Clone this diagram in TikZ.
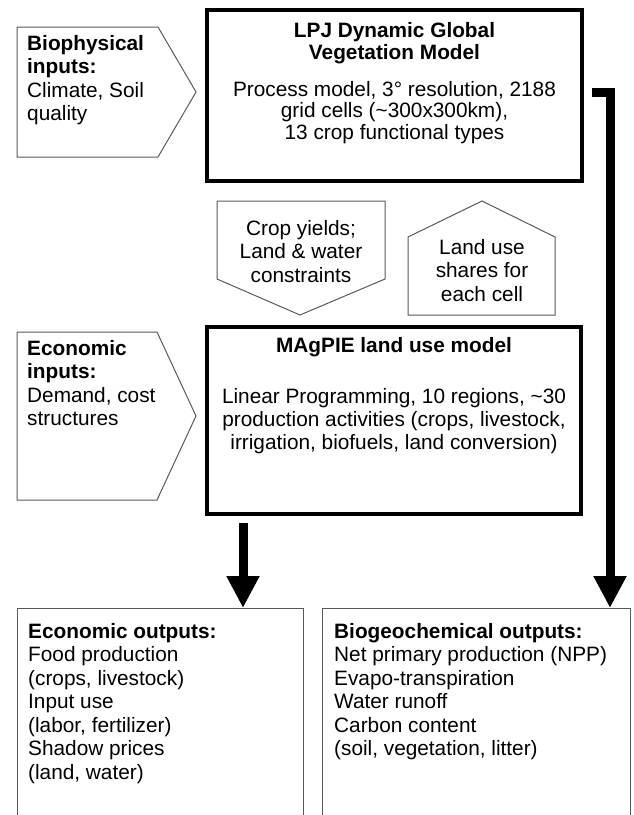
\documentclass[tikz,border=0pt]{standalone}
\usepackage{fontspec}
\setmainfont{Liberation Sans}
\usetikzlibrary{arrows.meta,calc}

\begin{document}
\begin{tikzpicture}[x=1pt,y=-1pt,
  every node/.style={font=\fontsize{20.8}{23.5}\selectfont, inner sep=0pt},
  title/.style={font=\fontsize{20.8}{22}\selectfont\bfseries, align=center, anchor=north},
  body/.style={font=\fontsize{20.8}{21.5}\selectfont, align=center, anchor=north},
  modelbox/.style={draw, line width=4pt, rectangle},
  infobox/.style={draw=black!65, line width=1pt},
  fatarrow/.style={line width=9pt, -{Triangle[width=31pt,length=32pt]}}]

% page
\clip (0,0) rectangle (633,815);

% model boxes
\node[modelbox, minimum width=375pt, minimum height=171pt] (lpj) at (394.5,95.5) {};
\node[modelbox, minimum width=374pt, minimum height=187pt] (magpie) at (394,420.5) {};

% output boxes
\node[infobox, minimum width=286pt, minimum height=240pt, anchor=north west] (ecoout) at (17,608) {};
\node[infobox, minimum width=308pt, minimum height=240pt, anchor=north west] (bioout) at (322,608) {};

% input shapes
\draw[infobox] (17,27) -- (158,27) -- (196,92) -- (158,157) -- (17,157) -- cycle;
\draw[infobox] (17,332) -- (157,332) -- (196,416) -- (157,500) -- (17,500) -- cycle;

% exchange shapes
\draw[infobox] (217,201) -- (385,201) -- (385,279) -- (300,315) -- (217,279) -- cycle;
\draw[infobox] (408,315) -- (408,237) -- (482,201) -- (555,237) -- (555,315) -- cycle;

% input texts
\node[anchor=north west, align=left] (bioin) at (27,35) {\textbf{Biophysical}\\\textbf{inputs:}\\Climate, Soil\\quality};
\node[anchor=north west, align=left] (ecoin) at (27,340) {\textbf{Economic}\\\textbf{inputs:}\\Demand, cost\\structures};

% model texts
\node[title] (lpjtitle) at (394.5,22) {LPJ Dynamic Global\\Vegetation Model};
\node[body] (lpjbody) at (394.5,81) {Process model, 3° resolution, 2188\\grid cells (\textasciitilde300x300km),\\13 crop functional types};
\node[title] (magpietitle) at (394,337) {MAgPIE land use model};
\node[body, font=\fontsize{20.8}{23}\selectfont] (magpiebody) at (394,388) {Linear Programming, 10 regions, \textasciitilde30\\production activities (crops, livestock,\\irrigation, biofuels, land conversion)};

% exchange texts
\node[anchor=north, align=center] (yields) at (301,220) {Crop yields;\\Land \& water\\constraints};
\node[anchor=north, align=center] (shares) at (482,239) {Land use\\shares for\\each cell};

% output texts
\node[anchor=north west, align=left] (ecotext) at (28,623) {\textbf{Economic outputs:}\\Food production\\(crops, livestock)\\Input use\\(labor, fertilizer)\\Shadow prices\\(land, water)};
\node[anchor=north west, align=left] (biotext) at (334,623) {\textbf{Biogeochemical outputs:}\\Net primary production (NPP)\\Evapo-transpiration\\Water runoff\\Carbon content\\(soil, vegetation, litter)};

% arrows
\coordinate (ecoarrow) at ($(magpie.south west)+(38,7)$);
\draw[fatarrow] (ecoarrow) -- (ecoarrow |- ecoout.north);
\draw[fatarrow] ([xshift=8pt,yshift=3.5pt]lpj.east) -| ($(bioout.north east)+(-21,0)$);

\end{tikzpicture}
\end{document}
